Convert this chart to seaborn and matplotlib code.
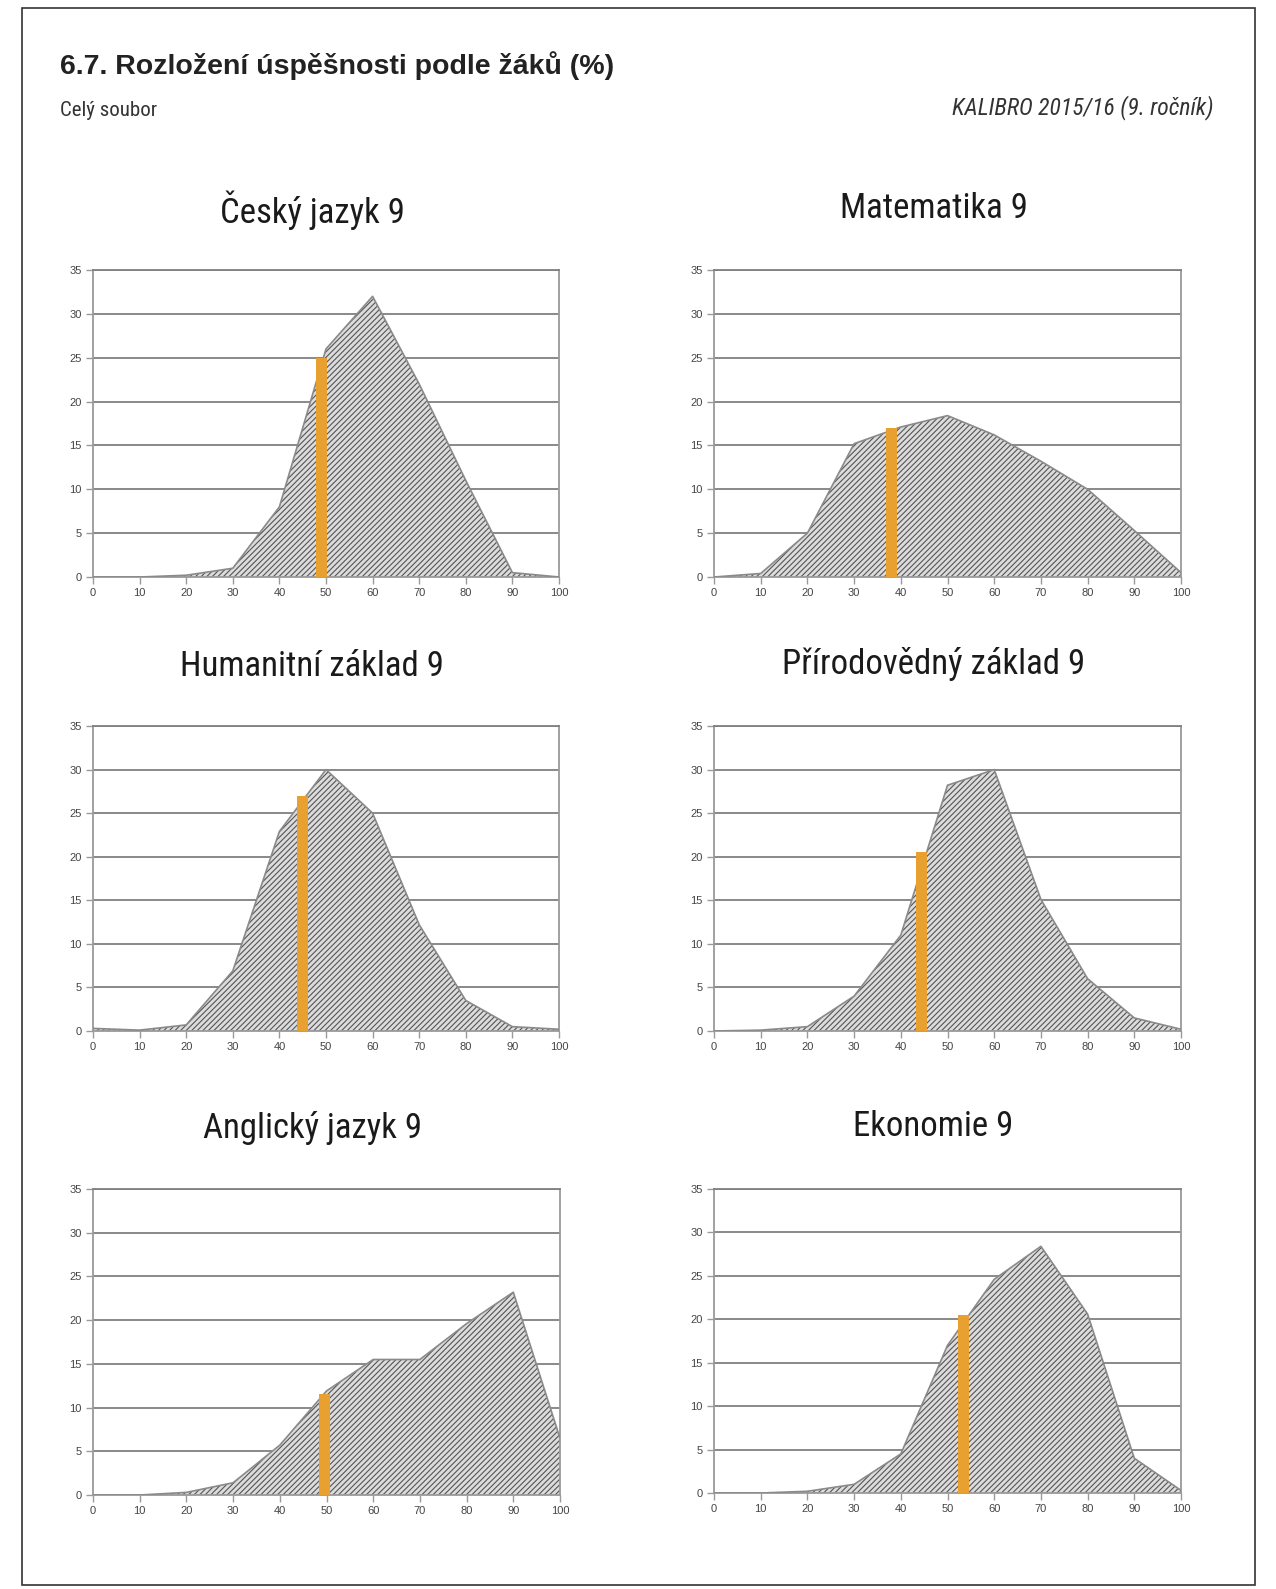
import matplotlib
matplotlib.use("Agg")
import matplotlib.pyplot as plt
import seaborn as sns
import numpy as np
import pandas as pd
from matplotlib.patches import Rectangle
from matplotlib import font_manager

sns.set_theme(style="white")
plt.rcParams['font.family'] = ['Liberation Sans', 'DejaVu Sans']
plt.rcParams['hatch.color'] = '#555555'
plt.rcParams['hatch.linewidth'] = 0.8

# ---- data ----
score = [0, 10, 20, 30, 40, 50, 60, 70, 80, 90, 100]
titles = ["Český jazyk 9", "Matematika 9", "Humanitní základ 9",
          "Přírodovědný základ 9", "Anglický jazyk 9", "Ekonomie 9"]
cesky = [0, 0, 0.2, 1, 8, 26, 32, 22, 11, 0.5, 0]
matematika = [0, 0.4, 5, 15.2, 17.1, 18.4, 16.2, 13.2, 10, 5.3, 0.5]
humanitni = [0.3, 0.1, 0.7, 6.9, 22.9, 30, 25, 12.2, 3.5, 0.5, 0.2]
prirodovedny = [0, 0.1, 0.5, 4, 11, 28.2, 30, 15.1, 6, 1.5, 0.2]
anglicky = [0, 0, 0.3, 1.4, 5.7, 11.9, 15.5, 15.5, 19.6, 23.2, 6.5]
ekonomie = [0, 0, 0.2, 1, 4.5, 17, 24.6, 28.4, 20.6, 4, 0.3]
series = [cesky, matematika, humanitni, prirodovedny, anglicky, ekonomie]
mean_score = [49, 38, 45, 44.5, 49.5, 53.5]
mean_height = [25, 17, 27, 20.5, 11.5, 20.5]
x_ticks = [0, 10, 20, 30, 40, 50, 60, 70, 80, 90, 100]
y_ticks = [0, 5, 10, 15, 20, 25, 30, 35]

available = {f.name for f in font_manager.fontManager.ttflist}
narrow = None
for cand in ['Liberation Sans Narrow', 'DejaVu Sans Condensed', 'Roboto Condensed', 'Roboto']:
    if cand in available:
        narrow = cand
        break
title_family = [narrow, 'DejaVu Sans'] if narrow else ['DejaVu Sans']
title_size = 25 if narrow in ('Liberation Sans Narrow', 'Roboto Condensed', 'DejaVu Sans Condensed') else 22

W, H = 1276, 1589
fig = plt.figure(figsize=(W / 100, H / 100), dpi=100)
fig.patch.set_facecolor('white')

# page frame
fig.patches.append(Rectangle((22 / W, 1 - 1585 / H), 1233 / W, 1577 / H,
                             transform=fig.transFigure, fill=False,
                             edgecolor='#333333', linewidth=1.2))

fig.text(60 / W, 1 - 66 / H, "6.7. Rozložení úspěšnosti podle žáků (%)",
         fontsize=20.5, fontweight='bold', color='#222222', va='center', ha='left')
fig.text(60 / W, 1 - 111 / H, "Celý soubor", fontsize=15, color='#333333',
         va='center', ha='left', family=title_family)
fig.text(1213 / W, 1 - 108 / H, "KALIBRO 2015/16 (9. ročník)", fontsize=17,
         color='#333333', va='center', ha='right', style='italic',
         family=title_family)

# axes pixel boxes: left, top(35), right, bottom(0)
boxes = [(93, 270, 559, 577), (714, 270, 1181, 577),
         (93, 726, 559, 1031), (714, 726, 1181, 1031),
         (93, 1189, 560, 1495), (714, 1189, 1181, 1493)]
title_y = [210, 208, 666, 664, 1128, 1126]

for i, (l, t, r, b) in enumerate(boxes):
    ax = fig.add_axes([l / W, 1 - b / H, (r - l) / W, (b - t) / H])
    df = pd.DataFrame({"score": score, "pct": series[i]})
    ax.fill_between(df["score"], df["pct"], 0, facecolor='#dcdcdc',
                    edgecolor='#555555', hatch='//////', linewidth=0, zorder=2)
    sns.lineplot(data=df, x="score", y="pct", ax=ax, color='#8a8a8a',
                 linewidth=1.2, zorder=3)
    ax.bar([mean_score[i]], [mean_height[i]], width=2.4, color='#e8a030',
           edgecolor='none', zorder=4)
    ax.set_xlim(0, 100)
    ax.set_ylim(0, 35)
    ax.set_xticks(x_ticks)
    ax.set_yticks(y_ticks)
    ax.set_xticklabels([str(v) for v in x_ticks])
    ax.set_yticklabels([str(v) for v in y_ticks])
    ax.set_xlabel("")
    ax.set_ylabel("")
    ax.grid(axis='y', color='#808080', linewidth=1.3, zorder=1)
    ax.set_axisbelow(True)
    for s in ax.spines.values():
        s.set_color('#9a9a9a')
        s.set_linewidth(1.3)
    ax.spines['top'].set_color('#808080')
    ax.tick_params(axis='both', which='both', length=5, width=1, color='#9a9a9a',
                   labelsize=8, labelcolor='#444444', direction='out', pad=3)
    ax.tick_params(left=True, bottom=True)
    fig.text(((l + r) / 2 - 14) / W, 1 - title_y[i] / H, titles[i],
             fontsize=title_size, color='#1a1a1a', ha='center', va='center',
             family=title_family)

fig.savefig("out.png", dpi=100, facecolor='white')
